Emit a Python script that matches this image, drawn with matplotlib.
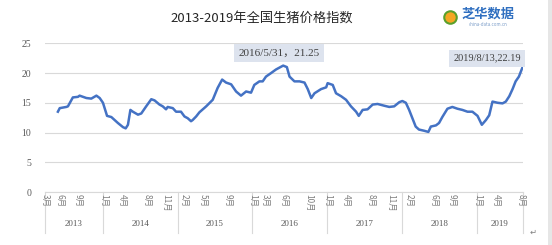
import matplotlib.pyplot as plt
import matplotlib.dates as mdates
from matplotlib.transforms import blended_transform_factory
from matplotlib.patches import Rectangle
from matplotlib.lines import Line2D
import pandas as pd

plt.rcParams['font.family'] = ['Noto Sans CJK SC', 'DejaVu Sans']

# 生猪价格指数
dates = ["2013-05-27", "2013-06-05", "2013-07-07", "2013-07-15", "2013-08-08", "2013-09-02",
         "2013-09-10", "2013-10-13", "2013-11-06", "2013-12-01", "2013-12-17", "2014-01-02",
         "2014-01-22", "2014-02-12", "2014-03-16", "2014-04-10", "2014-04-23", "2014-05-04",
         "2014-05-16", "2014-05-28", "2014-06-22", "2014-07-08", "2014-08-01", "2014-08-26",
         "2014-09-11", "2014-10-05", "2014-10-21", "2014-11-06", "2014-11-14", "2014-12-09",
         "2014-12-25", "2015-01-18", "2015-02-04", "2015-02-20", "2015-03-08", "2015-03-16",
         "2015-04-02", "2015-04-18", "2015-05-21", "2015-06-22", "2015-07-16", "2015-08-07",
         "2015-08-26", "2015-09-20", "2015-10-14", "2015-11-07", "2015-12-02", "2015-12-26",
         "2016-01-11", "2016-02-05", "2016-02-21", "2016-03-08", "2016-04-02", "2016-04-26",
         "2016-05-31", "2016-06-18", "2016-07-01", "2016-07-25", "2016-08-19", "2016-09-12",
         "2016-09-28", "2016-10-15", "2016-10-31", "2016-12-02", "2016-12-27", "2017-01-03",
         "2017-01-28", "2017-02-13", "2017-03-10", "2017-04-03", "2017-04-27", "2017-05-22",
         "2017-06-04", "2017-06-23", "2017-07-17", "2017-08-11", "2017-09-04", "2017-10-07",
         "2017-10-31", "2017-11-24", "2017-12-19", "2018-01-03", "2018-01-20", "2018-02-05",
         "2018-02-21", "2018-03-09", "2018-03-25", "2018-04-19", "2018-05-10", "2018-05-22",
         "2018-06-16", "2018-07-01", "2018-07-17", "2018-08-11", "2018-09-04", "2018-09-29",
         "2018-10-23", "2018-11-17", "2018-12-11", "2019-01-05", "2019-01-26", "2019-02-15",
         "2019-03-03", "2019-03-19", "2019-04-13", "2019-05-07", "2019-05-23", "2019-06-09",
         "2019-06-25", "2019-07-10", "2019-07-26", "2019-08-13"]
values = [13.5, 14.1, 14.3, 14.4, 15.9, 16.0,
          16.2, 15.8, 15.7, 16.2, 15.8, 15.0,
          12.8, 12.6, 11.6, 10.9, 10.7, 11.3,
          13.8, 13.5, 13.0, 13.2, 14.4, 15.6,
          15.4, 14.7, 14.4, 13.9, 14.3, 14.1,
          13.5, 13.5, 12.7, 12.4, 11.9, 12.1,
          12.7, 13.4, 14.4, 15.5, 17.5, 18.9,
          18.4, 18.1, 16.9, 16.2, 16.9, 16.7,
          18.0, 18.6, 18.6, 19.4, 20.0, 20.6,
          21.25, 21.0, 19.4, 18.6, 18.6, 18.4,
          17.3, 15.8, 16.6, 17.3, 17.6, 18.3,
          18.0, 16.6, 16.1, 15.5, 14.4, 13.5,
          12.8, 13.8, 13.9, 14.7, 14.8, 14.5,
          14.3, 14.4, 15.1, 15.3, 15.0, 13.8,
          12.4, 11.0, 10.5, 10.3, 10.1, 11.0,
          11.2, 11.6, 12.6, 14.0, 14.3, 14.0,
          13.8, 13.5, 13.5, 12.8, 11.3, 12.1,
          12.9, 15.2, 15.0, 14.9, 15.2, 16.1,
          17.3, 18.6, 19.4, 21.0]

years = ["2013", "2014", "2015", "2016", "2017", "2018", "2019"]
month_ticks = {
    "2013": [3, 6, 9],
    "2014": [1, 4, 8, 11],
    "2015": [2, 5, 9],
    "2016": [1, 3, 6, 10],
    "2017": [1, 4, 8, 11],
    "2018": [2, 6, 9],
    "2019": [1, 4, 8],
}

x = pd.to_datetime(dates)
x_start = pd.Timestamp("2013-03-25")
x_end = pd.Timestamp("2019-08-15")

fig = plt.figure(figsize=(5.52, 2.45), dpi=100)
ax = fig.add_axes([45 / 552, 1 - 192 / 245, 478 / 552, 148.7 / 245])

ax.plot(x, values, color='#4472c4', lw=1.8)
ax.set_xlim(x_start, x_end)
ax.set_ylim(0, 25)
ax.set_yticks([0, 5, 10, 15, 20, 25])
ax.grid(axis='y', color='#d9d9d9', lw=0.8)
ax.set_axisbelow(True)
for s in ['top', 'right', 'left']:
    ax.spines[s].set_visible(False)
ax.spines['bottom'].set_color('#d9d9d9')
ax.tick_params(axis='y', length=0, pad=10, labelsize=7, labelcolor='#595959')
for lab in ax.get_yticklabels():
    lab.set_family('Liberation Serif')
ax.set_xticks([])

trans = blended_transform_factory(ax.transData, ax.transAxes)
bounds = [x_start] + [pd.Timestamp(y + "-01-01") for y in years[1:]] + [x_end]
for b in bounds:
    ax.plot([mdates.date2num(b)] * 2, [0, -0.275], transform=trans,
            color='#d9d9d9', lw=0.8, clip_on=False)
for i, y in enumerate(years):
    mid = mdates.date2num(bounds[i]) / 2 + mdates.date2num(bounds[i + 1]) / 2
    ax.text(mid, -0.215, y, transform=trans, ha='center', va='center',
            fontsize=6.5, color='#595959', family='Liberation Serif')
    for m in month_ticks[y]:
        d = pd.Timestamp(f"{y}-{m:02d}-01")
        if d < x_start:
            d = x_start
        ax.text(mdates.date2num(d) + 4, -0.012, f"{m}月", transform=trans,
                ha='center', va='top', rotation=270, fontsize=6, color='#7f7f7f')

# annotations
ax.text(mdates.date2num(pd.Timestamp("2016-05-12")), 23.35, "2016/5/31，21.25",
        ha='center', va='center', fontsize=8, color='#404040',
        family=['Liberation Serif', 'Noto Sans CJK SC'],
        bbox=dict(boxstyle='square,pad=0.4', fc='#dde3ee', ec='none'))
ax.text(mdates.date2num(pd.Timestamp("2019-02-20")), 22.5, "2019/8/13,22.19",
        ha='center', va='center', fontsize=7.5, color='#404040', family='Liberation Serif',
        bbox=dict(boxstyle='square,pad=0.4', fc='#dde3ee', ec='none'))

fig.text(262 / 552, 1 - 18 / 245, "2013-2019年全国生猪价格指数", ha='center', va='center',
         fontsize=9.5, color='#262626')

# logo
fig.add_artist(Line2D([450 / 552], [1 - 17 / 245], transform=fig.transFigure, marker='o',
                      markersize=9, markerfacecolor='#f5a623', markeredgecolor='#5aa02c',
                      markeredgewidth=1.5))
fig.text(488 / 552, 1 - 14 / 245, "芝华数据", ha='center', va='center', fontsize=9.5,
         color='#2f6fc0', fontweight='bold')
fig.text(488 / 552, 1 - 24 / 245, "china-data.com.cn", ha='center', va='center', fontsize=3.2,
         color='#7a9cc8')

fig.patches.append(Rectangle((548 / 552, 0), 4 / 552, 1, transform=fig.transFigure,
                             fc='#e6e6e6', ec='none'))
fig.text(533 / 552, 1 - 232 / 245, "↵", ha='center', va='center', fontsize=6,
         color='#808080', family='DejaVu Sans')

fig.savefig('out.png', dpi=100)
